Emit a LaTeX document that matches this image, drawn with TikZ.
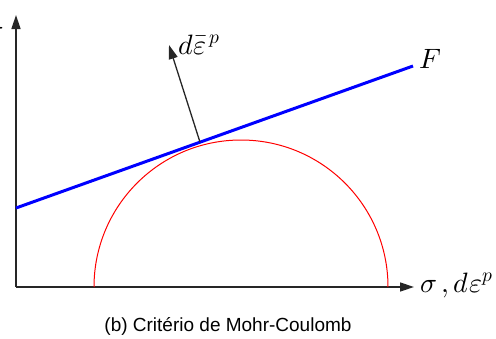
\documentclass[tikz,border=0pt]{standalone}
\usepackage{fontspec}
\usepackage{unicode-math}
\setmainfont{Liberation Sans}
\setmathfont{Latin Modern Math}
\usetikzlibrary{arrows.meta,calc}

\begin{document}
\begin{tikzpicture}[
    x=1pt, y=-1pt,
    axis/.style={draw=black!85, line width=1.5pt, -{Triangle[length=14pt,width=9pt]}},
    yieldline/.style={draw=blue, line width=3pt},
    mohr/.style={draw=red, line width=1pt},
    flow/.style={draw=black!85, line width=1.3pt, -{Triangle[length=14pt,width=9pt]}},
    mathlabel/.style={inner sep=0pt, font=\fontsize{28}{32}\selectfont}
]
    \useasboundingbox (0,0) rectangle (496,338);

    % axes
    \coordinate (O) at (16,287);
    \coordinate (ytip) at (16,15);
    \coordinate (xtip) at (414,287);
    \draw[axis] (O) -- (ytip);
    \draw[axis] (O) -- (xtip);
    \node[mathlabel, anchor=east] (tau) at (4,34) {$\tau$};
    \node[mathlabel, anchor=base west] (sig) at (420,292) {$\sigma\,,d\varepsilon^{p}$};

    % Mohr circle
    \coordinate (C) at (241,287);
    \draw[mohr] (C) ++(-147,0) arc[start angle=180, end angle=360, radius=147];

    % yield line F
    \coordinate (F0) at (16,208);
    \coordinate (F1) at (413,66);
    \draw[yieldline] (F0) -- (F1);
    \node[mathlabel, anchor=west] (F) at (419,59) {$F$};

    % plastic flow direction
    \coordinate (T) at ($(F0)!0.4635!(F1)$);
    \coordinate (N) at (169,45);
    \draw[flow] (T) -- (N);
    \node[mathlabel, anchor=base west] (deps) at (178,54) {$d\bar{\varepsilon}^{\,p}$};

    \node[font=\fontsize{19}{23}\selectfont] (cap) at (228,326) {(b) Critério de Mohr-Coulomb};
\end{tikzpicture}
\end{document}
